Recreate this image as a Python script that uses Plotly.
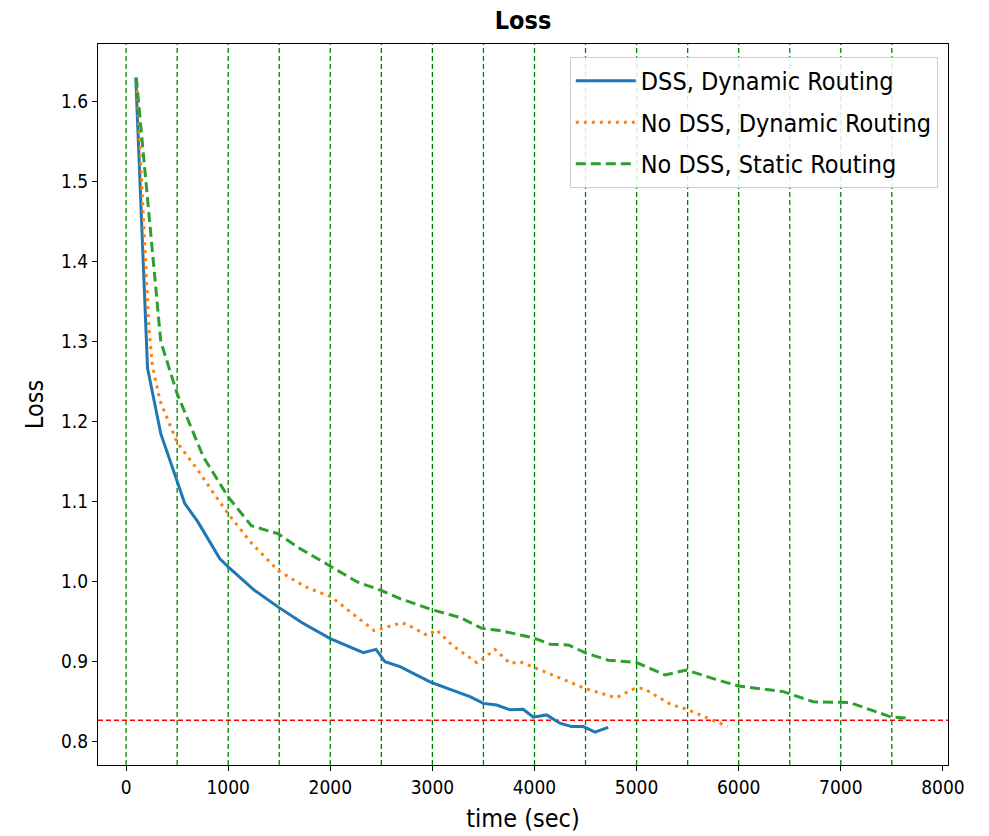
import plotly.graph_objects as go

# DSS, Dynamic Routing
dss_dyn_t = [95, 210, 340, 500, 574, 705, 917, 1000, 1162, 1260, 1488, 1720, 2000, 2324, 2448,
             2536, 2683, 2977, 3140, 3368, 3499, 3630, 3760, 3890, 3988, 4119, 4249, 4364, 4478, 4592, 4722]
dss_dyn_loss = [1.630, 1.267, 1.185, 1.127, 1.098, 1.0745, 1.029, 1.0185, 1.000, 0.989, 0.9686, 0.949,
                0.929, 0.9113, 0.9155, 0.900, 0.894, 0.875, 0.867, 0.8565, 0.848, 0.846, 0.840, 0.8407,
                0.8308, 0.8336, 0.8233, 0.819, 0.819, 0.812, 0.818]

# No DSS, Dynamic Routing
nodss_dyn_t = [104, 186, 222, 258, 333, 500, 700, 850, 1000, 1230, 1490, 1750, 2010, 2260, 2430, 2520,
               2700, 2790, 2950, 3040, 3190, 3434, 3520, 3613, 3760, 3860, 4120, 4510, 4800, 4970, 5065,
               5330, 5506, 5700, 5890]
nodss_dyn_loss = [1.624, 1.41, 1.32, 1.27, 1.226, 1.174, 1.14, 1.112, 1.085, 1.048, 1.014, 0.994, 0.981,
                  0.956, 0.939, 0.942, 0.949, 0.944, 0.933, 0.940, 0.921, 0.899, 0.906, 0.9155, 0.898,
                  0.900, 0.886, 0.866, 0.855, 0.866, 0.867, 0.847, 0.840, 0.8295, 0.819]

# No DSS, Static Routing
nodss_sta_t = [100, 340, 500, 757, 1000, 1227, 1488, 1704, 2014, 2260, 2503, 2683, 3009, 3270, 3483,
               3662, 3988, 4152, 4331, 4511, 4722, 5000, 5278, 5490, 5750, 5996, 6436, 6730, 7089, 7481, 7644]
nodss_sta_loss = [1.63, 1.30, 1.235, 1.156, 1.106, 1.070, 1.060, 1.0414, 1.0185, 1.0, 0.989, 0.979,
                  0.9645, 0.9555, 0.9417, 0.939, 0.930, 0.922, 0.921, 0.9105, 0.902, 0.899, 0.8835,
                  0.8897, 0.879, 0.8698, 0.8627, 0.850, 0.849, 0.8315, 0.8295]

vline_times = [0, 500, 1000, 1500, 2000, 2500, 3000, 3500, 4000, 4500, 5000, 5500, 6000, 6500, 7000, 7500]
target_loss = 0.827

x_ticks = [0, 1000, 2000, 3000, 4000, 5000, 6000, 7000, 8000]
y_ticks = [0.8, 0.9, 1.0, 1.1, 1.2, 1.3, 1.4, 1.5, 1.6]

FONT = "DejaVu Sans Condensed, DejaVu Sans, sans-serif"

fig = go.Figure()
fig.add_trace(go.Scatter(x=dss_dyn_t, y=dss_dyn_loss, mode="lines", name="DSS, Dynamic Routing",
                         legendgroup="a", line=dict(color="#1f77b4", width=3)))
fig.add_trace(go.Scatter(x=nodss_dyn_t, y=nodss_dyn_loss, mode="lines", name="No DSS, Dynamic Routing",
                         legendgroup="b", line=dict(color="#ff7f0e", width=3, dash="3px,5px")))
fig.add_trace(go.Scatter(x=nodss_sta_t, y=nodss_sta_loss, mode="lines", name="No DSS, Static Routing",
                         legendgroup="c", line=dict(color="#2ca02c", width=3, dash="10px,5px")))

shapes = []
for t in vline_times:
    shapes.append(dict(type="line", xref="x", yref="paper", x0=t, x1=t, y0=0, y1=1,
                       line=dict(color="#008000", width=1.3, dash="5px,3px"), layer="below"))
shapes.append(dict(type="line", xref="paper", yref="y", x0=0, x1=1, y0=target_loss, y1=target_loss,
                   line=dict(color="#ff0000", width=1.4, dash="5px,3px"), layer="below"))

fig.update_layout(
    width=989, height=836,
    margin=dict(l=98, r=41, t=44, b=71),
    paper_bgcolor="white", plot_bgcolor="white",
    font=dict(family=FONT, size=19, color="black"),
    title=dict(text="<b>Loss</b>", x=0.5, xref="paper", xanchor="center", y=1, yref="container",
               yanchor="top", pad=dict(t=11), font=dict(size=25, family=FONT)),
    shapes=shapes,
    showlegend=True,
    legend=dict(x=0.988, y=0.982, xanchor="right", yanchor="top", bgcolor="rgba(255,255,255,0.85)",
                bordercolor="#cccccc", borderwidth=1, font=dict(size=25, family=FONT),
                itemwidth=60, tracegroupgap=6, traceorder="grouped"),
    xaxis=dict(range=[-275, 8050], tickvals=x_ticks, ticktext=[str(v) for v in x_ticks],
               showgrid=False, zeroline=False, showline=True, mirror=True, linecolor="black",
               linewidth=1, ticks="outside", ticklen=5, tickcolor="black", automargin=False,
               tickfont=dict(size=19, family=FONT),
               title=dict(text="time (sec)", font=dict(size=25, family=FONT), standoff=12)),
    yaxis=dict(range=[0.771, 1.672], tickvals=y_ticks, ticktext=[f"{v:.1f}" for v in y_ticks],
               showgrid=False, zeroline=False, showline=True, mirror=True, linecolor="black",
               linewidth=1, ticks="outside", ticklen=5, tickcolor="black", automargin=False,
               tickfont=dict(size=19, family=FONT),
               title=dict(text="Loss", font=dict(size=25, family=FONT), standoff=10)),
)

fig.write_html("out.html")
